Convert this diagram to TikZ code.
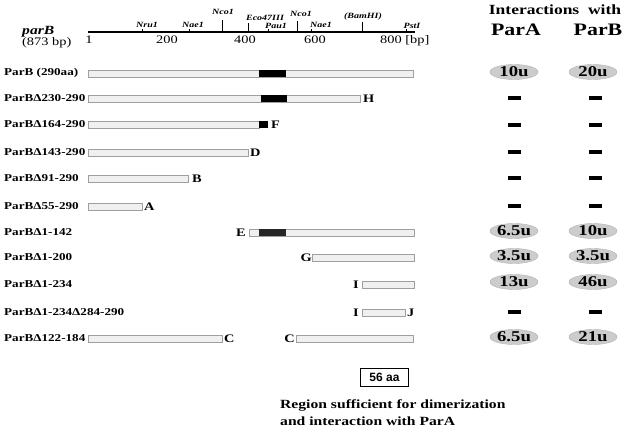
\documentclass[tikz,border=0pt]{standalone}
\usepackage{fontspec}
\setmainfont{Liberation Serif}[FakeStretch=1.25]
\setsansfont{Liberation Sans}
\usetikzlibrary{shapes.geometric}

\tikzset{
  bar/.style={draw=gray!75, fill=gray!12, line width=0.6pt},
  core/.style={fill=black},
  rowlabel/.style={anchor=west, inner sep=0pt, font=\fontsize{10.5}{12}\selectfont\bfseries},
  endlabel/.style={inner sep=0pt, font=\fontsize{11.5}{12}\selectfont\bfseries},
  site/.style={anchor=base, inner sep=0pt, font=\fontsize{8}{9}\selectfont\bfseries\itshape},
  units/.style={ellipse, draw=gray!60, fill=gray!40, minimum width=48pt, minimum height=15pt,
                inner sep=0pt, font=\fontsize{15}{15}\selectfont\bfseries},
  nobind/.style={fill=black, minimum width=13pt, minimum height=3.5pt, inner sep=0pt}
}

\begin{document}
\begin{tikzpicture}[x=1pt, y=-1pt]
  \useasboundingbox (0,0) rectangle (626,428);

  % Mappa di restrizione
  \node[anchor=base west, inner sep=0pt, font=\fontsize{12.5}{14}\selectfont\bfseries\itshape] (gene) at (22,35) {parB};
  \node[anchor=base west, inner sep=0pt, font=\fontsize{11.5}{13}\selectfont] (len) at (22,46) {(873 bp)};
  \coordinate (A0) at (88,32);
  \coordinate (A1) at (415,32);
  \draw[line width=1.8pt] (A0) -- (A1);
  \foreach \x/\h in {142/3, 189/3, 222/12, 248/9, 268/3, 297/11, 311/3, 362/10, 406/3}
    \draw[line width=0.5pt] (\x,32) -- (\x,32-\h);
  \node[site] (nru)  at (147,28) {Nru1};
  \node[site] (nae)  at (193,28) {Nae1};
  \node[site] (nco)  at (223,15) {Nco1};
  \node[site] (eco)  at (265,21) {Eco47III};
  \node[site] (pau)  at (276,29) {Pau1};
  \node[site] (nco2) at (301,17) {Nco1};
  \node[site] (nae2) at (321,28) {Nae1};
  \node[site] (bam)  at (363,19) {(BamHI)};
  \node[site] (pst)  at (412,29) {PstI};
  \foreach \x/\t in {89/1, 167/200, 245/400, 315/600}
    \node[anchor=base, inner sep=0pt, font=\fontsize{11.5}{13}\selectfont] (n\t) at (\x,44) {\t};
  \node[anchor=base west, inner sep=0pt, font=\fontsize{11.5}{13}\selectfont] (n800) at (380,44) {800 [bp]};

  % Intestazione
  \node[inner sep=0pt, font=\fontsize{14}{16}\selectfont\bfseries] (head) at (555,10) {Interactions\ \ with};
  \node[inner sep=0pt, font=\fontsize{17.5}{19}\selectfont\bfseries] (colA) at (516,30) {ParA};
  \node[inner sep=0pt, font=\fontsize{17.5}{19}\selectfont\bfseries] (colB) at (598,30) {ParB};

  % Costrutti
  \node[rowlabel] (r1) at (4,73) {ParB (290aa)};
  \draw[bar] (88,70) rectangle (413,77);
  \fill[core] (259,70) rectangle (286,77);

  \node[rowlabel] (r2) at (4,98) {ParBΔ230-290};
  \draw[bar] (88,95) rectangle (360,102);
  \fill[core] (261,95) rectangle (287,102);
  \node[endlabel, anchor=west] (H) at (363,99) {H};

  \node[rowlabel] (r3) at (4,124) {ParBΔ164-290};
  \draw[bar] (88,121) rectangle (259,128);
  \fill[core] (259,121) rectangle (268,128);
  \node[endlabel, anchor=west] (F) at (271,125) {F};

  \node[rowlabel] (r4) at (4,152) {ParBΔ143-290};
  \draw[bar] (88,149) rectangle (248,156);
  \node[endlabel, anchor=west] (D) at (250,153) {D};

  \node[rowlabel] (r5) at (4,178) {ParBΔ91-290};
  \draw[bar] (88,175) rectangle (188,182);
  \node[endlabel, anchor=west] (B) at (192,179) {B};

  \node[rowlabel] (r6) at (4,206) {ParBΔ55-290};
  \draw[bar] (88,203) rectangle (142,210);
  \node[endlabel, anchor=west] (Aend) at (144,207) {A};

  \node[rowlabel] (r7) at (4,232) {ParBΔ1-142};
  \draw[bar] (249,229) rectangle (414,236);
  \fill[black!85] (259,229) rectangle (286,236);
  \node[endlabel, anchor=east] (E) at (246,233) {E};

  \node[rowlabel] (r8) at (4,257) {ParBΔ1-200};
  \draw[bar] (312,254) rectangle (414,261);
  \node[endlabel, anchor=east] (G) at (312,258) {G};

  \node[rowlabel] (r9) at (4,284) {ParBΔ1-234};
  \draw[bar] (362,281) rectangle (414,288);
  \node[endlabel, anchor=east] (I) at (359,285) {I};

  \node[rowlabel] (r10) at (4,312) {ParBΔ1-234Δ284-290};
  \draw[bar] (362,309) rectangle (405,316);
  \node[endlabel, anchor=east] (I2) at (359,313) {I};
  \node[endlabel, anchor=west] (J) at (407,313) {J};

  \node[rowlabel] (r11) at (4,338) {ParBΔ122-184};
  \draw[bar] (88,335) rectangle (222,342);
  \node[endlabel, anchor=west] (C1) at (224,339) {C};
  \draw[bar] (296,335) rectangle (413,342);
  \node[endlabel, anchor=east] (C2) at (295,339) {C};

  % Interazioni
  \foreach \y/\a/\b in {72/10u/20u, 231/6.5u/10u, 256/3.5u/3.5u, 282/13u/46u, 337/6.5u/21u} {
    \node[units] (pa\y) at (514,\y) {\a};
    \node[units] (pb\y) at (593,\y) {\b};
  }
  \foreach \y in {98, 125, 152, 178, 206, 312} {
    \node[nobind] (na\y) at (514,\y) {};
    \node[nobind] (nb\y) at (595,\y) {};
  }

  % Regione minima
  \node[draw, line width=1.8pt, minimum width=48pt, minimum height=18pt, inner sep=0pt,
        font=\sffamily\fontsize{12}{13}\selectfont\bfseries] (box) at (384.5,377.5) {56 aa};
  \node[anchor=base west, inner sep=0pt, font=\fontsize{12.5}{14}\selectfont\bfseries] (cap1) at (280,408) {Region sufficient for dimerization};
  \node[anchor=base west, inner sep=0pt, font=\fontsize{12.5}{14}\selectfont\bfseries] (cap2) at (280,425) {and interaction with ParA};
\end{tikzpicture}
\end{document}
